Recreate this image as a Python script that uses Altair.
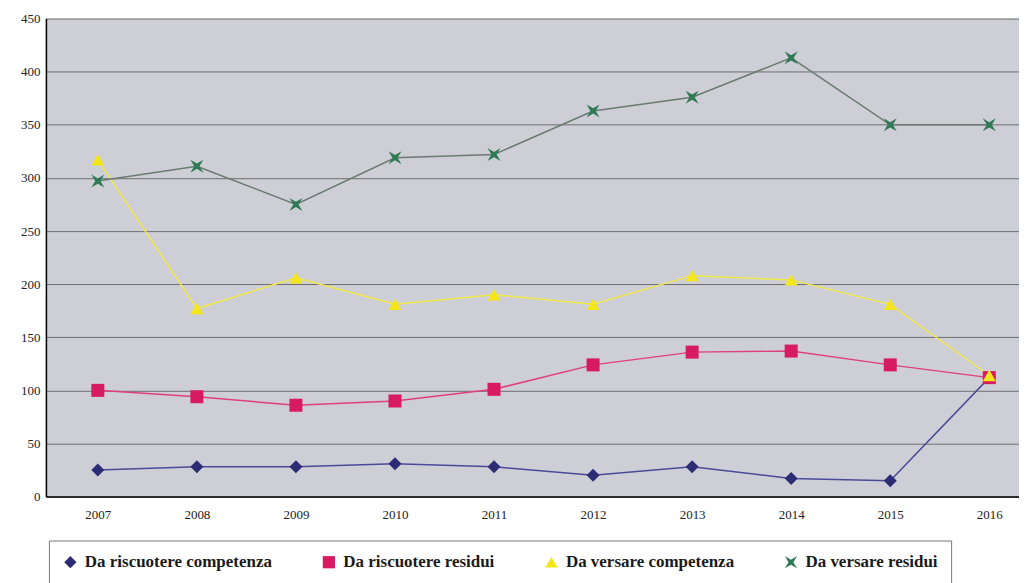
import altair as alt
import pandas as pd

years = [2007, 2008, 2009, 2010, 2011, 2012, 2013, 2014, 2015, 2016]
series_names = ["Da riscuotere competenza", "Da riscuotere residui",
                "Da versare competenza", "Da versare residui"]
riscuotere_competenza = [25, 28, 28, 31, 28, 20, 28, 17, 15, 112]
riscuotere_residui = [100, 94, 86, 90, 101, 124, 136, 137, 124, 112]
versare_competenza = [317, 177, 206, 181, 190, 181, 208, 204, 181, 114]
versare_residui = [297, 311, 275, 319, 322, 363, 376, 413, 350, 350]

marker_colors = ["#2c2c74", "#d81b60", "#f5e61a", "#2f7a55"]
line_colors = ["#4a4a9a", "#e0407a", "#f0e84a", "#6a7a70"]
star = "M-1,-1L0,-0.4L1,-1L0.4,0L1,1L0,0.4L-1,1L-0.4,0Z"
shapes = ["diamond", "square", "triangle-up", star]

rows = []
for name, vals in zip(series_names, [riscuotere_competenza, riscuotere_residui,
                                     versare_competenza, versare_residui]):
    for y, v in zip(years, vals):
        rows.append({"Anno": y, "Valore": v, "Serie": name})
df = pd.DataFrame(rows)

font = "'Liberation Serif', 'Times New Roman', 'DejaVu Serif', serif"
x = alt.X("Anno:Q", scale=alt.Scale(domain=[2006.476, 2016.30], nice=False, zero=False),
          axis=alt.Axis(values=years, format="d", title=None, grid=False, ticks=False,
                        labelFont=font, labelFontSize=13, labelColor="#222",
                        labelPadding=12, domainColor="#000", domainWidth=1.5))
y = alt.Y("Valore:Q", scale=alt.Scale(domain=[0, 450], nice=False),
          axis=alt.Axis(values=list(range(0, 451, 50)), title=None, ticks=False,
                        labelFont=font, labelFontSize=13, labelColor="#222",
                        labelPadding=6, gridColor="#6e6e6e", gridWidth=1,
                        domainColor="#000", domainWidth=1.5))

line_layers = []
for name, lc in zip(series_names, line_colors):
    line_layers.append(
        alt.Chart(df).transform_filter(alt.datum.Serie == name)
        .mark_line(strokeWidth=1.5, color=lc).encode(x=x, y=y)
    )

points = alt.Chart(df).mark_point(filled=True, opacity=1, size=170).encode(
    x=x, y=y,
    color=alt.Color("Serie:N", scale=alt.Scale(domain=series_names, range=marker_colors),
                    legend=alt.Legend(title=None)),
    shape=alt.Shape("Serie:N", scale=alt.Scale(domain=series_names, range=shapes),
                    legend=alt.Legend(title=None)),
)

chart = alt.layer(*line_layers, points).properties(
    width=975, height=479,
    padding={"top": 4, "left": 12, "right": 0, "bottom": 0},
    background="#ffffff",
).configure(
    font=font
).configure_view(
    fill="#cecfd6", stroke=None
).configure_legend(
    orient="none", legendX=3, legendY=523, direction="horizontal", columns=4,
    columnPadding=48, padding=13, strokeColor="#777", strokeWidth=1,
    labelFont=font, labelFontSize=17, labelFontWeight="bold", labelColor="#1a1a1a",
    labelLimit=400, symbolSize=150, symbolStrokeWidth=1, labelOffset=6,
)

chart.save("out.html", embed_options={"renderer": "svg", "actions": False})
